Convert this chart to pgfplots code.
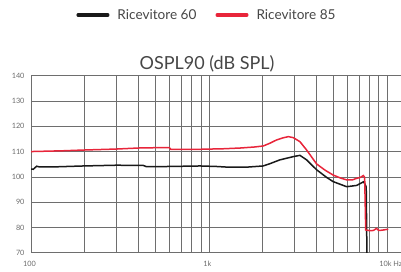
\documentclass[border=0pt]{standalone}
\usepackage{pgfplots}
\pgfplotsset{compat=1.18}
\usepackage{fontspec}
\setmainfont{Lato}
\definecolor{myred}{RGB}{232,37,58}
\definecolor{myblack}{RGB}{25,25,25}
\definecolor{gridc}{RGB}{110,110,110}
\definecolor{txt}{RGB}{70,70,70}
\begin{document}
\begin{tikzpicture}
\begin{axis}[
  scale only axis,
  width=370pt, height=177pt,
  xmode=log, log basis x=10,
  xmin=100, xmax=12000,
  ymin=70, ymax=140,
  ytick={70,80,...,140},
  xtick={100,1000,10000},
  minor xtick={200,300,400,500,600,700,800,900,2000,3000,4000,5000,6000,7000,8000,9000},
  xticklabels={100,1k,10k\rlap{ Hz}},
  grid=both,
  major grid style={gridc, line width=0.6pt},
  minor grid style={gridc, line width=0.6pt},
  major tick length=0pt, minor tick length=0pt,
  axis x line=box, axis y line=left,
  axis line style={gridc, line width=0.6pt, -},
  /pgf/number format/assume math mode=true,
  tick label style={font=\fontsize{7.3}{8}\selectfont, text=txt!80},
  xticklabel style={yshift=-5pt, xshift=-1.5pt},
  yticklabel style={xshift=-3pt},
  title={OSPL90 (dB SPL)},
  title style={font=\fontsize{18}{20}\selectfont, text=txt, at={(0.4757,1.083)}, anchor=center, yshift=-9pt},
  legend columns=2,
  legend style={at={(0.4757,1.343)}, anchor=center, draw=none, fill=none,
    font=\fontsize{13.6}{15}\selectfont, text=txt,
    /tikz/column 1/.style={column sep=6pt},
    /tikz/column 2/.style={column sep=17pt},
    /tikz/column 3/.style={column sep=6pt}},
  legend image code/.code={\draw[#1, line width=3.2pt, line cap=round] (1.6pt,0pt) -- (31.4pt,0pt);},
]
\addplot[myblack, line width=1.5pt] coordinates {
(100,103.1) (103,103.0) (107.6,104.2) (112,103.9) (130,103.9) (197,104.3) (303,104.6) (428,104.5) (446,104.0) (600,104.1) (890,104.3) (1100,104.1) (1300,103.8) (1600,103.8) (2018,104.3) (2200,105.2) (2500,106.7) (2980,108.0) (3245,108.5) (3540,106.7) (4025,102.8) (4580,99.8) (4990,98.1) (5940,96.1) (6760,96.6) (7370,98.0) (7500,97.4) (7650,96) (7750,60)
};
\addlegendentry{Ricevitore 60}
\addplot[myred, line width=1.5pt] coordinates {
(100,110.0) (150,110.3) (197,110.6) (303,111.0) (401,111.4) (578,111.6) (600,111.5) (610,110.9) (700,110.9) (890,110.9) (1200,111.1) (1500,111.4) (1800,111.8) (2018,112.2) (2200,113.3) (2400,114.6) (2600,115.4) (2790,115.9) (2980,115.5) (3245,113.9) (3540,110.6) (4025,105.1) (4500,102.6) (4990,100.7) (5500,99.5) (5940,98.8) (6400,98.8) (6760,99.4) (7100,99.8) (7370,100.5) (7500,99.8) (7600,79) (8020,78.7) (8400,78.8) (8740,79.6) (9000,78.8) (9400,78.9) (10170,79.3)
};
\addlegendentry{Ricevitore 85}
\end{axis}
\pgfresetboundingbox
\useasboundingbox ([xshift=-31pt,yshift=-19.3pt]current axis.south west) rectangle ([yshift=75.7pt]current axis.north east);
\end{tikzpicture}
\end{document}
